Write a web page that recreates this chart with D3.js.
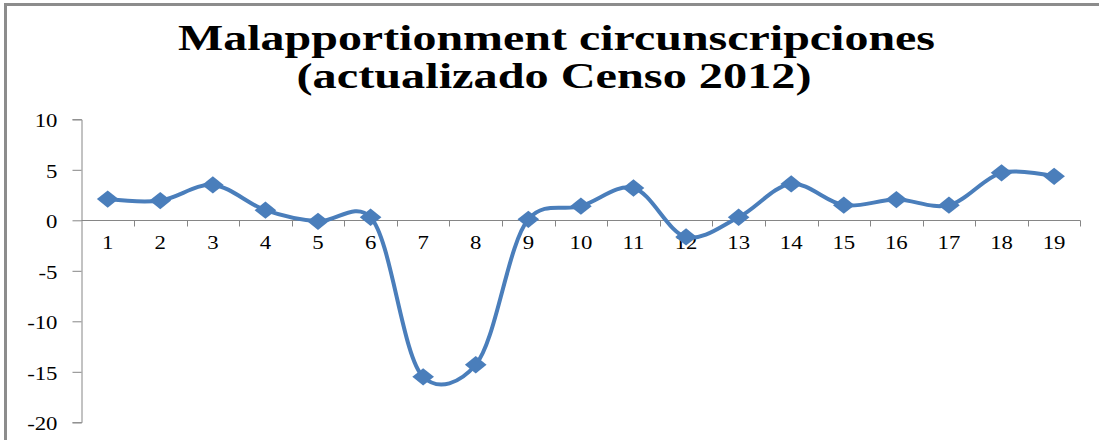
<!DOCTYPE html>
<html>
<head>
<meta charset="utf-8">
<script src="https://cdn.jsdelivr.net/npm/d3@7.9.0/dist/d3.min.js"></script>
<style>
  body { margin: 0; background: #fff; }
  svg { display: block; }
</style>
</head>
<body>
<div id="chart"></div>
<script>
const circunscripciones = ['1', '2', '3', '4', '5', '6', '7', '8', '9', '10', '11', '12', '13', '14', '15', '16', '17', '18', '19'];
const malapportionment = [2.1, 1.95, 3.5, 1.0, -0.1, 0.3, -15.5, -14.3, 0.1, 1.4, 3.2, -1.65, 0.3, 3.6, 1.5, 2.05, 1.5, 4.7, 4.35];
const yTicks = [10, 5, 0, -5, -10, -15, -20];
const titleLines = ['Malapportionment circunscripciones', '(actualizado Censo 2012)'];

const width = 1099;
const height = 440;
const blue = '#4a7ebb';
const axisColor = '#868686';
const serif = '"Liberation Serif", "Times New Roman", serif';
const stretch = 1.2; // the picture is a little wider than tall

const svg = d3.select('#chart').append('svg').attr('width', width).attr('height', height);

// chart frame (only top and left edges show in the crop)
svg.append('path')
  .attr('d', `M5.5,${height} V4.5 H${width}`)
  .attr('fill', 'none')
  .attr('stroke', '#8c8c8c')
  .attr('stroke-width', 3);

// title
const title = svg.append('g')
  .attr('font-family', serif)
  .attr('font-weight', 'bold')
  .attr('font-size', 35)
  .attr('text-anchor', 'middle');
title.append('text').attr('x', 556.5).attr('y', 50).attr('textLength', 757).attr('lengthAdjust', 'spacingAndGlyphs').text(titleLines[0]);
title.append('text').attr('x', 554).attr('y', 88).attr('textLength', 515).attr('lengthAdjust', 'spacingAndGlyphs').text(titleLines[1]);

const xScale = d3.scaleBand().domain(circunscripciones).range([81.4, 1080.4]);
const yScale = d3.scaleLinear().domain([-20, 10]).range([422.3, 119.3]);

// y axis
const yAxis = svg.append('g')
  .attr('transform', 'translate(81.5,0)')
  .call(d3.axisLeft(yScale).tickValues(yTicks).tickSize(9).tickFormat(d => String(d)));
yAxis.selectAll('line, path').attr('stroke', axisColor);
yAxis.select('.domain').attr('d', `M-9,${yScale(10) + 0.5}H0.5V${yScale(-20) + 0.5}H-9`);
yAxis.selectAll('.tick text')
  .attr('x', null)
  .attr('dy', '0.35em')
  .attr('fill', '#000')
  .attr('font-family', serif)
  .attr('font-size', 19)
  .attr('transform', `translate(-24,1) scale(${stretch},1)`);

// x axis at zero, ticks between categories
const zeroY = Math.round(yScale(0)) + 0.5;
const xAxis = svg.append('g').attr('transform', `translate(0,${zeroY})`);
xAxis.append('line')
  .attr('x1', xScale.range()[0]).attr('x2', xScale.range()[1])
  .attr('stroke', axisColor);
xAxis.selectAll('line.tk')
  .data(circunscripciones)
  .join('line')
  .attr('class', 'tk')
  .attr('x1', d => Math.round(xScale(d) + xScale.bandwidth()) + 0.5)
  .attr('x2', d => Math.round(xScale(d) + xScale.bandwidth()) + 0.5)
  .attr('y1', 0).attr('y2', 6)
  .attr('stroke', axisColor);
xAxis.selectAll('text')
  .data(circunscripciones)
  .join('text')
  .attr('transform', d => `translate(${xScale(d) + xScale.bandwidth() / 2},28) scale(${stretch},1)`)
  .attr('text-anchor', 'middle')
  .attr('font-family', serif)
  .attr('font-size', 19)
  .text(d => d);

// smoothed line
const points = circunscripciones.map((c, i) => [xScale(c) + xScale.bandwidth() / 2, yScale(malapportionment[i])]);
svg.append('path')
  .attr('d', d3.line().curve(d3.curveCatmullRom.alpha(0.25))(points))
  .attr('fill', 'none')
  .attr('stroke', blue)
  .attr('stroke-width', 4)
  .attr('stroke-linejoin', 'round');

// diamond markers, slightly wider than tall
svg.append('g').selectAll('path')
  .data(points)
  .join('path')
  .attr('transform', d => `translate(${d[0]},${d[1]}) scale(1.25,1) rotate(45)`)
  .attr('d', d3.symbol(d3.symbolSquare, 150))
  .attr('fill', blue);
</script>
</body>
</html>
